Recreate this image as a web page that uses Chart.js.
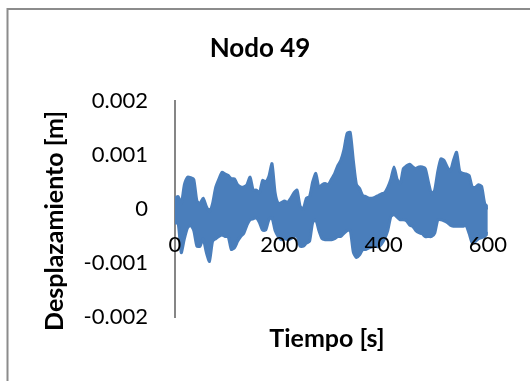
<!DOCTYPE html>
<html>
<head>
<meta charset="utf-8">
<title>Nodo 49</title>
<script src="https://cdn.jsdelivr.net/npm/chart.js@4.4.1/dist/chart.umd.min.js"></script>
<style>
  html, body { margin: 0; padding: 0; background: #fff; }
  #wrap { width: 530px; height: 381px; position: relative; }
</style>
</head>
<body>
<div id="wrap"><canvas id="nodoChart" width="530" height="381"></canvas></div>
<script>
// Nodo 49 - desplazamiento vs tiempo

const tituloGrafico = 'Nodo 49';
const tituloX = 'Tiempo [s]';
const tituloY = 'Desplazamiento [m]';

// time of each envelope sample [s], 0 to 600 every 6 s
const pasoTiempo = 6;

// the signal is a dense oscillation, read as its upper / lower envelope [mm]
const envolventeSupMm = [
   0.20,  0.23,  0.10,  0.45,  0.59,  0.58,  0.55,  0.15,  0.10,  0.20,   // 0-54
   0.05, -0.05,  0.10,  0.40,  0.55,  0.68,  0.65,  0.62,  0.56,  0.56,   // 60-114
   0.45,  0.41,  0.41,  0.45,  0.59,  0.35,  0.35,  0.30,  0.53,  0.50,   // 120-174
   0.60,  0.84,  0.30,  0.10,  0.12,  0.15,  0.12,  0.20,  0.30,  0.35,   // 180-234
   0.05,  0.00,  0.20,  0.23,  0.50,  0.66,  0.40,  0.45,  0.47,  0.45,   // 240-294
   0.55,  0.65,  0.80,  0.90,  1.10,  1.40,  1.42,  0.90,  0.45,  0.38,   // 300-354
   0.25,  0.23,  0.20,  0.20,  0.22,  0.25,  0.28,  0.30,  0.40,  0.55,   // 360-414
   0.78,  0.55,  0.47,  0.75,  0.80,  0.83,  0.78,  0.75,  0.78,  0.78,   // 420-474
   0.75,  0.50,  0.28,  0.35,  0.70,  0.93,  0.90,  0.78,  0.70,  0.90,   // 480-534
   1.05,  0.70,  0.66,  0.65,  0.62,  0.41,  0.40,  0.45,  0.42,  0.10,   // 540-594
   0.04                                                                   // 600
];
const envolventeInfMm = [
  -0.26, -0.26, -0.81, -0.55, -0.35, -0.30, -0.40, -0.69, -0.69, -0.55,
  -0.80, -0.97, -0.60, -0.55, -0.51, -0.48, -0.51, -0.51, -0.75, -0.72,
  -0.60, -0.51, -0.45, -0.30, -0.20, -0.18, -0.16, -0.25, -0.39, -0.39,
  -0.20, -0.16, -0.40, -0.51, -0.57, -0.55, -0.57, -0.55, -0.51, -0.50,
  -0.69, -0.69, -0.63, -0.60, -0.25, -0.20, -0.40, -0.55, -0.57, -0.57,
  -0.57, -0.55, -0.51, -0.51, -0.45, -0.40, -0.39, -0.80, -0.90, -0.85,
  -0.75, -0.75, -0.72, -0.70, -0.69, -0.70, -0.65, -0.55, -0.40, -0.14,
  -0.10, -0.15, -0.20, -0.20, -0.22, -0.30, -0.32, -0.40, -0.44, -0.46,
  -0.51, -0.51, -0.51, -0.45, -0.20, -0.20, -0.22, -0.25, -0.30, -0.32,
  -0.32, -0.32, -0.32, -0.30, -0.45, -0.63, -0.60, -0.55, -0.53, -0.51,
  -0.45
];

// axis ticks
const ticksX = [0, 200, 400, 600];
const ticksY = [-0.002, -0.001, 0, 0.001, 0.002];

function aPuntos(arrMm) {
    return arrMm.map(function(v, i) {
        return { x: i * pasoTiempo, y: v / 1000 };   // mm -> m
    });
}

const azul = '#4a7ebb';

// frame + axis titles drawn by hand, Excel style
const marcoYTitulos = {
    id: 'marcoYTitulos',
    beforeDraw: function(chart) {
        const ctx = chart.ctx;
        ctx.save();
        ctx.fillStyle = '#ffffff';
        ctx.fillRect(0, 0, chart.width, chart.height);
        ctx.strokeStyle = '#8c8c8c';
        ctx.lineWidth = 2;
        ctx.strokeRect(7.5, 9, 700, 700);
        ctx.restore();
    },
    afterDraw: function(chart) {
        const ctx = chart.ctx;
        ctx.save();
        ctx.fillStyle = '#000000';
        ctx.font = 'bold 25px Lato';
        ctx.textAlign = 'center';
        ctx.textBaseline = 'middle';
        ctx.fillText(tituloX, 327, 339);
        ctx.translate(55, 221);
        ctx.rotate(-Math.PI / 2);
        ctx.fillText(tituloY, 0, 0);
        ctx.restore();
    }
};

function dibujar() {
    const ctx = document.getElementById('nodoChart').getContext('2d');

    new Chart(ctx, {
        type: 'line',
        data: {
            datasets: [{
                label: 'sup',
                data: aPuntos(envolventeSupMm),
                borderColor: azul,
                borderWidth: 3,
                borderJoinStyle: 'round',
                borderCapStyle: 'round',
                pointRadius: 0,
                fill: false,
                tension: 0.2
            }, {
                label: 'inf',
                data: aPuntos(envolventeInfMm),
                borderColor: azul,
                backgroundColor: azul,
                borderWidth: 3,
                borderJoinStyle: 'round',
                borderCapStyle: 'round',
                pointRadius: 0,
                fill: '-1',
                tension: 0.2
            }]
        },
        options: {
            responsive: false,
            animation: false,
            layout: {
                padding: { left: 16, right: 26, top: 0, bottom: 64 }
            },
            plugins: {
                legend: { display: false },
                tooltip: { enabled: false },
                title: {
                    display: true,
                    text: tituloGrafico,
                    color: '#000000',
                    font: { family: 'Lato', size: 26, weight: 'bold' },
                    padding: { top: 33.4, bottom: 36.4 }
                }
            },
            scales: {
                x: {
                    type: 'linear',
                    position: { y: 0 },
                    min: 0,
                    max: 600,
                    afterBuildTicks: function(scale) {
                        scale.ticks = ticksX.map(function(v) { return { value: v }; });
                    },
                    grid: {
                        display: true,
                        drawOnChartArea: false,
                        drawTicks: false,
                        color: '#868686'
                    },
                    border: { display: true, color: '#868686', width: 1.5, z: -1 },
                    ticks: {
                        color: '#000000',
                        padding: 23,
                        z: 1,
                        font: { family: 'Lato', size: 22 },
                        maxRotation: 0
                    }
                },
                y: {
                    min: -0.002,
                    max: 0.002,
                    afterBuildTicks: function(scale) {
                        scale.ticks = ticksY.map(function(v) { return { value: v }; });
                    },
                    afterFit: function(scale) {
                        scale.width = 159;
                    },
                    grid: {
                        display: true,
                        drawOnChartArea: false,
                        drawTicks: false
                    },
                    border: { display: true, color: '#868686', width: 2 },
                    ticks: {
                        color: '#000000',
                        padding: 27,
                        font: { family: 'Lato', size: 22 },
                        callback: function(value) {
                            return String(Number(value.toFixed(3)));
                        }
                    }
                }
            }
        },
        plugins: [marcoYTitulos]
    });
}

if (document.fonts && document.fonts.load) {
    Promise.all([
        document.fonts.load('22px Lato'),
        document.fonts.load('bold 22px Lato')
    ]).then(dibujar, dibujar);
} else {
    dibujar();
}
</script>
</body>
</html>
